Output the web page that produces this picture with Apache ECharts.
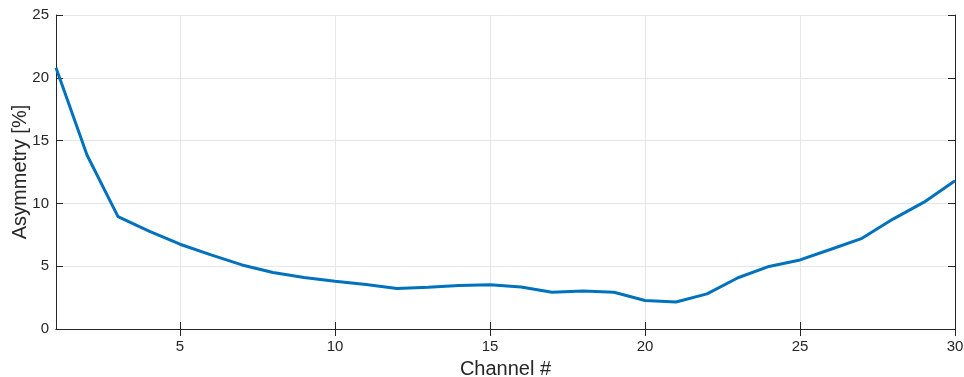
<!DOCTYPE html>
<html>
<head>
<meta charset="utf-8">
<script src="https://cdn.jsdelivr.net/npm/echarts@6/dist/echarts.min.js"></script>
<style>
  html, body { margin: 0; padding: 0; background: #fff; }
  #chart { width: 964px; height: 377px; }
</style>
</head>
<body>
<div id="chart"></div>
<script>
// Channel numbers and measured asymmetry per channel (%)
const channels = [1,2,3,4,5,6,7,8,9,10,11,12,13,14,15,16,17,18,19,20,21,22,23,24,25,26,27,28,29,30];
const asymmetry = [20.8,13.85,8.95,7.8,6.75,5.9,5.1,4.5,4.1,3.8,3.55,3.22,3.32,3.47,3.52,3.35,2.92,3.02,2.92,2.27,2.15,2.8,4.08,4.98,5.5,6.35,7.22,8.75,10.1,11.8];
const xTicks = [5,10,15,20,25,30];
const yTicks = [0,5,10,15,20,25];

const axisColor = '#262626';
const gridColor = '#e6e6e6';
const font = 'Liberation Sans, Arial, Helvetica, sans-serif';

const chart = echarts.init(document.getElementById('chart'));
const points = channels.map((c, i) => [c, asymmetry[i]]);

const baseX = {
  type: 'value', min: 1, max: 30,
  axisLine: { show: true, lineStyle: { color: axisColor, width: 1 } },
  axisTick: { show: true, inside: true, length: 7, lineStyle: { color: axisColor },
              customValues: xTicks },
  splitLine: { show: false }
};
const baseY = {
  type: 'value', min: 0, max: 25, interval: 5,
  axisLine: { show: true, lineStyle: { color: axisColor, width: 1 } },
  axisTick: { show: true, inside: true, length: 7, lineStyle: { color: axisColor } },
  splitLine: { show: false }
};

chart.setOption({
  animation: false,
  backgroundColor: '#fff',
  grid: { left: 56, right: 9, top: 15, bottom: 48, containLabel: false, outerBoundsMode: 'none' },
  xAxis: [
    Object.assign({}, baseX, {
      position: 'bottom',
      name: 'Channel #', nameLocation: 'middle', nameGap: 30, nameMoveOverlap: false,
      nameTextStyle: { color: axisColor, fontSize: 20, fontFamily: font },
      axisLabel: { show: true, color: axisColor, fontSize: 15, fontFamily: font, margin: 10,
                   customValues: xTicks },
      splitLine: { show: true, lineStyle: { color: gridColor, width: 1 } }
    }),
    Object.assign({}, baseX, {
      position: 'top',
      axisLabel: { show: false }
    })
  ],
  yAxis: [
    Object.assign({}, baseY, {
      position: 'left',
      name: 'Asymmetry [%]', nameLocation: 'middle', nameGap: 26, nameRotate: 90,
      nameMoveOverlap: false,
      nameTextStyle: { color: axisColor, fontSize: 20, fontFamily: font },
      axisLabel: { show: true, color: axisColor, fontSize: 15, fontFamily: font, margin: 7,
                   formatter: v => yTicks.includes(v) ? String(v) : '' },
      splitLine: { show: true, lineStyle: { color: gridColor, width: 1 } }
    }),
    Object.assign({}, baseY, {
      position: 'right',
      axisLabel: { show: false }
    })
  ],
  series: [{
    type: 'line',
    data: points,
    xAxisIndex: 0,
    yAxisIndex: 0,
    showSymbol: false,
    lineStyle: { color: '#0072BD', width: 3 },
    z: 5
  }]
});
</script>
</body>
</html>
